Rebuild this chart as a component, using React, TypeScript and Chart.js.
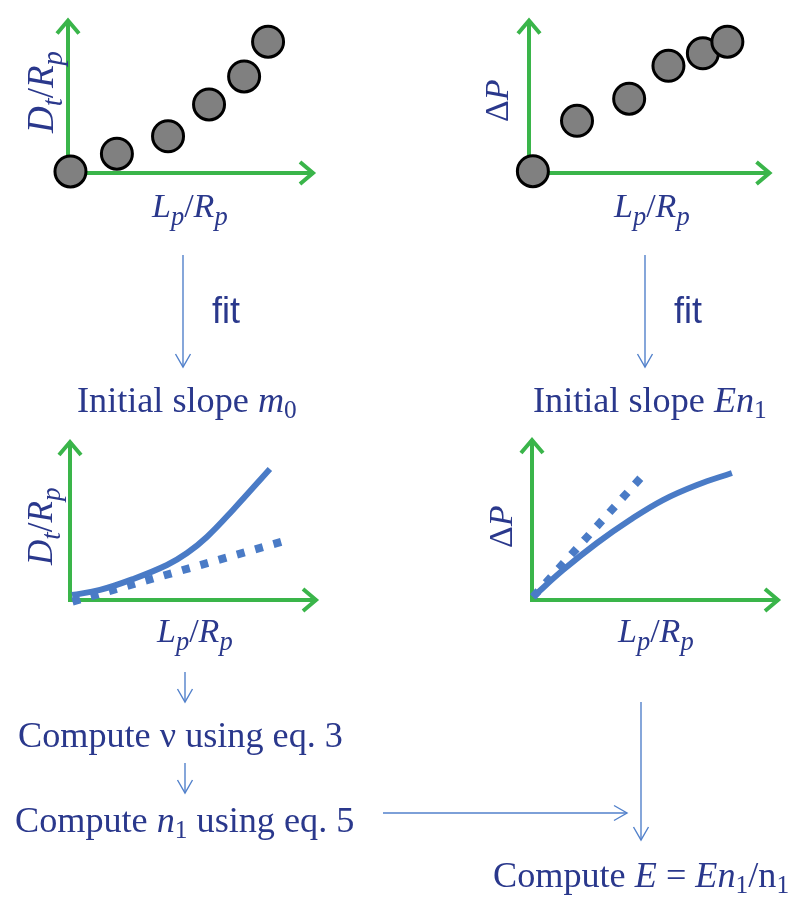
import React, { useEffect, useRef } from "react";
import { Chart, registerables } from "chart.js";

Chart.register(...registerables);

// ---------- colours / fonts ----------
const GREEN = "#3ab54a";
const BLUE = "#4a7bc6";
const ARROW = "#5281cb";
const TEXT = "#2a388c";
const SERIF = '"Liberation Serif", "Times New Roman", serif';
const SANS = '"Liberation Sans", Arial, sans-serif';

// ---------- data (axes are 0..100 in each mini plot) ----------
// Panel 1: Dt/Rp vs Lp/Rp measured points
const dtX = [1, 19.8, 40.5, 57.1, 71.3, 81.0];
const dtY = [1, 12.5, 23.8, 44.4, 62.5, 85.0];
// Panel 2: ΔP vs Lp/Rp measured points
const dpX = [1.6, 19.8, 41.3, 57.5, 71.7, 81.8];
const dpY = [1.2, 33.8, 48.1, 69.4, 77.5, 85.0];
// Panel 3: Dt/Rp curve and initial slope line
const dtCurveX = [0.8, 12.1, 25.4, 39.1, 47.2, 55.2, 65.7, 80.6];
const dtCurveY = [3.1, 6.3, 13.1, 21.9, 29.4, 39.4, 56.3, 81.9];
const dtSlopeX = [1, 89];
const dtSlopeY = [-1, 38];
// Panel 4: ΔP curve and initial slope line
const dpCurveX = [0.4, 12.5, 26.2, 39.5, 52.8, 66.5, 80.6];
const dpCurveY = [1.9, 18.5, 35.2, 49.4, 61.7, 71.0, 78.4];
const dpSlopeX = [0.4, 45.6];
const dpSlopeY = [1.9, 78.4];

type Seg = { t: string; it?: boolean; sub?: boolean };

const LABEL_LP: Seg[] = [
  { t: "L", it: true },
  { t: "p", it: true, sub: true },
  { t: "/" },
  { t: "R", it: true },
  { t: "p", it: true, sub: true },
];
const LABEL_DT: Seg[] = [
  { t: "D", it: true },
  { t: "t", it: true, sub: true },
  { t: "/" },
  { t: "R", it: true },
  { t: "p", it: true, sub: true },
];
const LABEL_DP: Seg[] = [{ t: "Δ" }, { t: "P", it: true }];

const pts = (xs: number[], ys: number[]) => xs.map((x, i) => ({ x, y: ys[i] }));

function drawRich(
  ctx: CanvasRenderingContext2D,
  segs: Seg[],
  x: number,
  y: number,
  size: number,
  vertical: boolean
) {
  ctx.save();
  ctx.translate(x, y);
  if (vertical) ctx.rotate(-Math.PI / 2);
  ctx.fillStyle = TEXT;
  ctx.textBaseline = "alphabetic";
  ctx.textAlign = "left";
  let cx = 0;
  for (const s of segs) {
    const fs = s.sub ? size * 0.78 : size;
    ctx.font = `${s.it ? "italic " : ""}${fs}px ${SERIF}`;
    ctx.fillText(s.t, cx, s.sub ? size * 0.24 : 0);
    cx += ctx.measureText(s.t).width;
  }
  ctx.restore();
}

interface PanelCfg {
  left: number;
  top: number;
  width: number;
  height: number;
  pad: { left: number; right: number; top: number; bottom: number };
  xLabel: { segs: Seg[]; x: number; y: number; size: number };
  yLabel: { segs: Seg[]; x: number; y: number; size: number };
  datasets: any[];
}

function makeAxesPlugin(cfg: PanelCfg) {
  return {
    id: "flowAxes",
    beforeDatasetsDraw(chart: any) {
      const ctx: CanvasRenderingContext2D = chart.ctx;
      const sx = chart.scales.x;
      const sy = chart.scales.y;
      const ox = sx.getPixelForValue(0);
      const oy = sy.getPixelForValue(0);
      const tx = sx.getPixelForValue(100) - 2;
      const ty = sy.getPixelForValue(100) + 2;
      ctx.save();
      ctx.strokeStyle = GREEN;
      ctx.lineWidth = 4;
      ctx.lineCap = "butt";
      ctx.lineJoin = "miter";
      ctx.beginPath();
      ctx.moveTo(ox - 2, oy);
      ctx.lineTo(tx, oy);
      ctx.moveTo(ox, oy + 2);
      ctx.lineTo(ox, ty);
      ctx.stroke();
      ctx.beginPath();
      ctx.moveTo(tx - 13, oy - 11);
      ctx.lineTo(tx, oy);
      ctx.lineTo(tx - 13, oy + 11);
      ctx.moveTo(ox - 11, ty + 13);
      ctx.lineTo(ox, ty);
      ctx.lineTo(ox + 11, ty + 13);
      ctx.stroke();
      ctx.restore();
    },
    afterDraw(chart: any) {
      const ctx: CanvasRenderingContext2D = chart.ctx;
      drawRich(ctx, cfg.xLabel.segs, cfg.xLabel.x, cfg.xLabel.y, cfg.xLabel.size, false);
      drawRich(ctx, cfg.yLabel.segs, cfg.yLabel.x, cfg.yLabel.y, cfg.yLabel.size, true);
    },
  };
}

const pointSet = (xs: number[], ys: number[]) => ({
  data: pts(xs, ys),
  pointRadius: 15.5,
  pointBorderWidth: 3,
  pointBackgroundColor: "#808080",
  pointBorderColor: "#000000",
  showLine: false,
  clip: false,
});

const curveSet = (xs: number[], ys: number[]) => ({
  data: pts(xs, ys),
  showLine: true,
  pointRadius: 0,
  borderColor: BLUE,
  borderWidth: 6,
  borderCapStyle: "butt",
  tension: 0.4,
  clip: false,
});

const slopeSet = (xs: number[], ys: number[]) => ({
  data: pts(xs, ys),
  showLine: true,
  pointRadius: 0,
  borderColor: BLUE,
  borderWidth: 8,
  borderDash: [8, 11],
  borderCapStyle: "butt",
  clip: false,
});

const PANELS: PanelCfg[] = [
  {
    left: 0,
    top: 0,
    width: 340,
    height: 240,
    pad: { left: 68, right: 25, top: 13, bottom: 67 },
    xLabel: { segs: LABEL_LP, x: 152, y: 217, size: 34 },
    yLabel: { segs: LABEL_DT, x: 53, y: 133, size: 37 },
    datasets: [pointSet(dtX, dtY)],
  },
  {
    left: 460,
    top: 0,
    width: 330,
    height: 240,
    pad: { left: 69, right: 14, top: 13, bottom: 67 },
    xLabel: { segs: LABEL_LP, x: 154, y: 217, size: 34 },
    yLabel: { segs: LABEL_DP, x: 48, y: 122, size: 34 },
    datasets: [pointSet(dpX, dpY)],
  },
  {
    left: 0,
    top: 420,
    width: 340,
    height: 240,
    pad: { left: 70, right: 22, top: 20, bottom: 60 },
    xLabel: { segs: LABEL_LP, x: 157, y: 222, size: 34 },
    yLabel: { segs: LABEL_DT, x: 52, y: 145, size: 35 },
    datasets: [slopeSet(dtSlopeX, dtSlopeY), curveSet(dtCurveX, dtCurveY)],
  },
  {
    left: 460,
    top: 420,
    width: 330,
    height: 240,
    pad: { left: 72, right: 10, top: 18, bottom: 60 },
    xLabel: { segs: LABEL_LP, x: 158, y: 222, size: 34 },
    yLabel: { segs: LABEL_DP, x: 52, y: 128, size: 34 },
    datasets: [slopeSet(dpSlopeX, dpSlopeY), curveSet(dpCurveX, dpCurveY)],
  },
];

function Panel({ cfg }: { cfg: PanelCfg }) {
  const ref = useRef<HTMLCanvasElement>(null);
  useEffect(() => {
    const chart = new Chart(ref.current as HTMLCanvasElement, {
      type: "scatter",
      data: { datasets: cfg.datasets },
      options: {
        animation: false,
        responsive: false,
        events: [],
        layout: { padding: cfg.pad },
        plugins: {
          legend: { display: false },
          tooltip: { enabled: false },
          title: { display: false },
        },
        scales: {
          x: { type: "linear", min: 0, max: 100, display: false },
          y: { type: "linear", min: 0, max: 100, display: false },
        },
      } as any,
      plugins: [makeAxesPlugin(cfg)],
    } as any);
    return () => chart.destroy();
  }, []);
  return (
    <canvas
      ref={ref}
      width={cfg.width}
      height={cfg.height}
      style={{
        position: "absolute",
        left: cfg.left,
        top: cfg.top,
        width: cfg.width,
        height: cfg.height,
      }}
    />
  );
}

// ---------- flow annotations ----------
const FLOW_ARROWS = [
  { x1: 183, y1: 255, x2: 183, y2: 367 },
  { x1: 645, y1: 255, x2: 645, y2: 367 },
  { x1: 185, y1: 672, x2: 185, y2: 702 },
  { x1: 185, y1: 763, x2: 185, y2: 793 },
  { x1: 383, y1: 813, x2: 627, y2: 813 },
  { x1: 641, y1: 702, x2: 641, y2: 840 },
];

function Arrow({ a }: { a: { x1: number; y1: number; x2: number; y2: number } }) {
  const dx = a.x2 - a.x1;
  const dy = a.y2 - a.y1;
  const len = Math.hypot(dx, dy);
  const ux = dx / len;
  const uy = dy / len;
  const back = 13;
  const side = 7.5;
  const p1 = `${a.x2 - ux * back - uy * side},${a.y2 - uy * back + ux * side}`;
  const p2 = `${a.x2 - ux * back + uy * side},${a.y2 - uy * back - ux * side}`;
  return (
    <g stroke={ARROW} strokeWidth={1.4} fill="none">
      <line x1={a.x1} y1={a.y1} x2={a.x2} y2={a.y2} />
      <polyline points={`${p1} ${a.x2},${a.y2} ${p2}`} />
    </g>
  );
}

const Sub = ({ children }: { children: React.ReactNode }) => (
  <span style={{ fontSize: "0.7em", position: "relative", top: "0.25em" }}>{children}</span>
);
const I = ({ children }: { children: React.ReactNode }) => (
  <span style={{ fontStyle: "italic" }}>{children}</span>
);

function Txt({
  left,
  baseline,
  sans,
  children,
}: {
  left: number;
  baseline: number;
  sans?: boolean;
  children: React.ReactNode;
}) {
  return (
    <div
      style={{
        position: "absolute",
        left,
        top: baseline - (sans ? 30.5 : 30),
        font: `${sans ? 36 : 36.2}px ${sans ? SANS : SERIF}`,
        lineHeight: "36px",
        color: TEXT,
        whiteSpace: "nowrap",
      }}
    >
      {children}
    </div>
  );
}

export default function App() {
  return (
    <div
      style={{
        position: "absolute",
        left: 0,
        top: 0,
        width: 790,
        height: 898,
        background: "#ffffff",
        overflow: "hidden",
      }}
    >
      {PANELS.map((p, i) => (
        <Panel key={i} cfg={p} />
      ))}
      <svg
        width={790}
        height={898}
        style={{ position: "absolute", left: 0, top: 0 }}
      >
        {FLOW_ARROWS.map((a, i) => (
          <Arrow key={i} a={a} />
        ))}
      </svg>
      <Txt left={212} baseline={323} sans>
        fit
      </Txt>
      <Txt left={674} baseline={323} sans>
        fit
      </Txt>
      <Txt left={77} baseline={412}>
        Initial slope <I>m</I>
        <Sub>0</Sub>
      </Txt>
      <Txt left={533} baseline={412}>
        Initial slope <I>En</I>
        <Sub>1</Sub>
      </Txt>
      <Txt left={18} baseline={747}>
        Compute ν using eq. 3
      </Txt>
      <Txt left={15} baseline={832}>
        Compute <I>n</I>
        <Sub>1</Sub> using eq. 5
      </Txt>
      <Txt left={493} baseline={887}>
        Compute <I>E</I> = <I>En</I>
        <Sub>1</Sub>/n<Sub>1</Sub>
      </Txt>
    </div>
  );
}
